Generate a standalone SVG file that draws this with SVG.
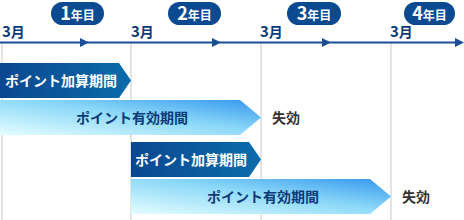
<svg xmlns="http://www.w3.org/2000/svg" width="464" height="220" viewBox="0 0 464 220">
<defs>
<linearGradient id="gDark" x1="0" y1="0" x2="1" y2="0">
<stop offset="0" stop-color="#0a4790"/>
<stop offset="1" stop-color="#0b6cab"/>
</linearGradient>
<linearGradient id="gLight" x1="0" y1="1" x2="1" y2="0">
<stop offset="0" stop-color="#e4fdff"/>
<stop offset="0.55" stop-color="#8ad8f8"/>
<stop offset="1" stop-color="#3596ee"/>
</linearGradient>
<style>
text{font-family:"Noto Sans CJK JP","Noto Sans",sans-serif;font-weight:bold}
.grid{stroke:#dedede;stroke-width:1.6}
.axis{stroke:#1b4f95;stroke-width:2}
.ah{fill:#1b4f95}
.pill{fill:#0b4a91}
.pt{fill:#fff}
.mon{fill:#0b3a78;font-size:14px}
.dk{fill:#fff;font-size:14px}
.lt{fill:#0b3a78;font-size:14px}
.ex{fill:#333;font-size:14px}
</style>
</defs>
<g id="grid">
<line class="grid" x1="2" y1="43" x2="2" y2="220"/>
<line class="grid" x1="131" y1="43" x2="131" y2="220"/>
<line class="grid" x1="261" y1="43" x2="261" y2="220"/>
<line class="grid" x1="391" y1="43" x2="391" y2="220"/>
</g>
<g id="connectors">
<line class="axis" x1="0" y1="42.5" x2="458" y2="42.5"/>
<polygon class="ah" points="80,38 89,42.5 80,47"/>
<polygon class="ah" points="212,38 221,42.5 212,47"/>
<polygon class="ah" points="322,38 331,42.5 322,47"/>
<polygon class="ah" points="455,38 464,42.5 455,47"/>
</g>
<g id="months">
<text class="mon" x="2" y="37"><tspan font-size="15">3</tspan>月</text>
<text class="mon" x="131" y="37"><tspan font-size="15">3</tspan>月</text>
<text class="mon" x="260" y="37"><tspan font-size="15">3</tspan>月</text>
<text class="mon" x="390" y="37"><tspan font-size="15">3</tspan>月</text>
</g>
<g id="year1"><rect class="pill" x="51" y="2" width="53" height="23" rx="11.5"/><text class="pt" x="77.5" y="20" text-anchor="middle"><tspan font-size="18">1</tspan><tspan font-size="12">年目</tspan></text></g>
<g id="year2"><rect class="pill" x="168" y="2" width="53" height="23" rx="11.5"/><text class="pt" x="194.5" y="20" text-anchor="middle"><tspan font-size="18">2</tspan><tspan font-size="12">年目</tspan></text></g>
<g id="year3"><rect class="pill" x="287" y="2" width="54" height="23" rx="11.5"/><text class="pt" x="314" y="20" text-anchor="middle"><tspan font-size="18">3</tspan><tspan font-size="12">年目</tspan></text></g>
<g id="year4"><rect class="pill" x="404" y="2" width="51" height="23" rx="11.5"/><text class="pt" x="429.5" y="20" text-anchor="middle"><tspan font-size="18">4</tspan><tspan font-size="12">年目</tspan></text></g>
<g id="bar1">
<polygon fill="url(#gDark)" points="0,63 119,63 131,80.5 119,98 0,98"/>
<text class="dk" x="5" y="85.5">ポイント加算期間</text>
</g>
<g id="bar2">
<polygon fill="url(#gLight)" points="0,100 240,100 261,117.5 240,135 0,135"/>
<text class="lt" x="76" y="123">ポイント有効期間</text>
</g>
<g id="exp1"><text class="ex" x="272" y="123">失効</text></g>
<g id="bar3">
<polygon fill="url(#gDark)" points="131,142 249,142 261,159.5 249,177 131,177"/>
<text class="dk" x="135" y="165">ポイント加算期間</text>
</g>
<g id="bar4">
<polygon fill="url(#gLight)" points="131,179 370,179 391,196.5 370,214 131,214"/>
<text class="lt" x="207" y="202">ポイント有効期間</text>
</g>
<g id="exp2"><text class="ex" x="402" y="202">失効</text></g>
</svg>
